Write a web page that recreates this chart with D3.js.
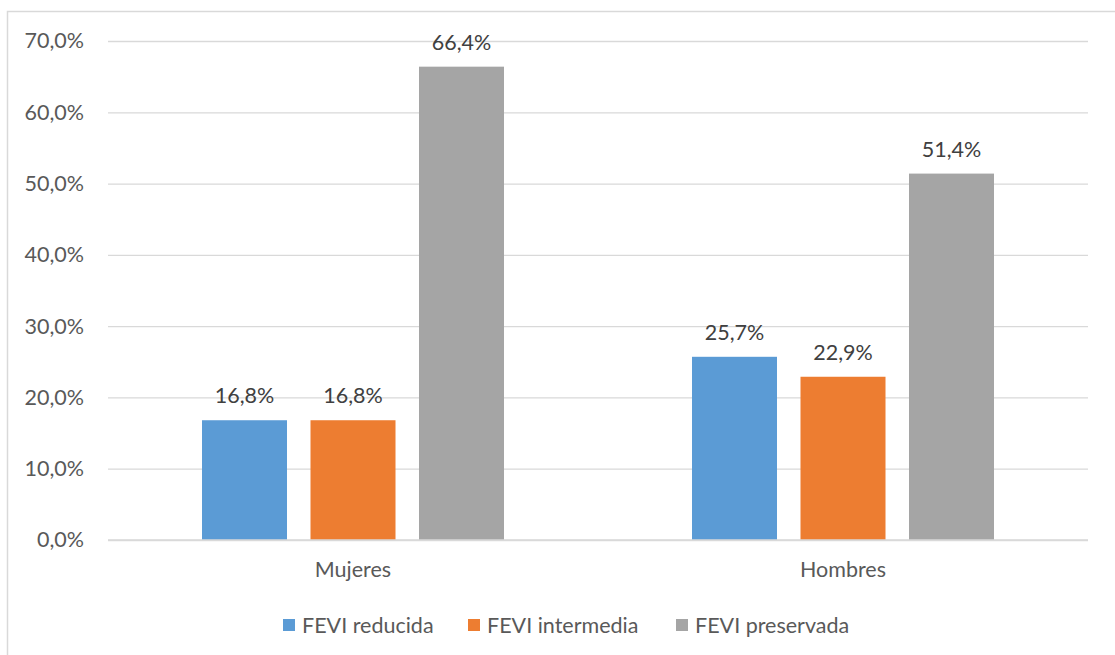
<!DOCTYPE html>
<html>
<head>
<meta charset="utf-8">
<script src="https://cdn.jsdelivr.net/npm/d3@7"></script>
<style>
  html, body { margin: 0; padding: 0; background: #fff; }
  svg { display: block; font-family: Lato, "Open Sans", sans-serif; }
</style>
</head>
<body>
<svg id="chart" width="1115" height="655"></svg>
<script>
// Distribución de FEVI por sexo (porcentajes)
const categories = ["Mujeres", "Hombres"];
const seriesNames = ["FEVI reducida", "FEVI intermedia", "FEVI preservada"];
const reducida = [16.8, 25.7];
const intermedia = [16.8, 22.9];
const preservada = [66.4, 51.4];
const yTicks = [0, 10, 20, 30, 40, 50, 60, 70];
const colors = ["#5b9bd5", "#ed7d31", "#a5a5a5"];

const seriesValues = [reducida, intermedia, preservada];

const svg = d3.select("#chart");
const W = 1115, H = 655;
const margin = { left: 108, right: 27, top: 41, bottom: 115 };
const plotW = W - margin.left - margin.right;
const plotH = H - margin.top - margin.bottom;

const fs = 21.5;
const fmt = v => v.toFixed(1).replace(".", ",") + "%";
const textColor = "#595959";

// chart border
svg.append("rect")
  .attr("x", 7.5).attr("y", 11.5)
  .attr("width", W).attr("height", H)
  .attr("fill", "none").attr("stroke", "#d9d9d9").attr("stroke-width", 1.5);

const g = svg.append("g").attr("transform", `translate(${margin.left},${margin.top})`);

const x0 = d3.scaleBand().domain(categories).range([0, plotW]).paddingInner(0).paddingOuter(0);
const y = d3.scaleLinear().domain([0, 70]).range([plotH, 0]);

// gridlines + y axis labels
const yAxis = d3.axisLeft(y).tickValues(yTicks).tickFormat(fmt).tickSize(-plotW).tickPadding(24);
const ya = g.append("g").call(yAxis);
ya.select(".domain").remove();
ya.selectAll(".tick line").attr("stroke", "#d9d9d9").attr("stroke-width", 1.3);
ya.selectAll(".tick text").attr("fill", textColor).attr("font-size", fs).attr("font-family", "Lato, 'Open Sans', sans-serif");

// bars
const barW = 85, gap = 23.5;
const groupW = 3 * barW + 2 * gap;
const x1 = d3.scaleBand().domain(seriesNames).range([0, groupW]).paddingInner(gap / (barW + gap)).paddingOuter(0);

const groups = g.selectAll(".grp").data(categories).enter().append("g")
  .attr("transform", c => `translate(${x0(c) + x0.bandwidth() / 2 - groupW / 2},0)`);

groups.each(function(c, ci) {
  const grp = d3.select(this);
  seriesNames.forEach((s, si) => {
    const v = seriesValues[si][ci];
    grp.append("rect")
      .attr("x", x1(s)).attr("width", x1.bandwidth())
      .attr("y", y(v)).attr("height", y(0) - y(v))
      .attr("fill", colors[si]);
    grp.append("text")
      .attr("x", x1(s) + x1.bandwidth() / 2)
      .attr("y", y(v) - 17)
      .attr("text-anchor", "middle")
      .attr("fill", "#404040").attr("font-size", fs)
      .text(fmt(v));
  });
});

// baseline
g.append("line").attr("x1", 0).attr("x2", plotW).attr("y1", y(0)).attr("y2", y(0))
  .attr("stroke", "#d9d9d9").attr("stroke-width", 1.3);

// category labels
const xa = g.append("g").attr("transform", `translate(0,${plotH})`)
  .call(d3.axisBottom(x0).tickSize(0).tickPadding(22));
xa.select(".domain").remove();
xa.selectAll(".tick text").attr("fill", textColor).attr("font-size", fs).attr("font-family", "Lato, 'Open Sans', sans-serif");

// legend
const legendX = [283, 468, 676];
const legend = svg.append("g");
seriesNames.forEach((s, i) => {
  legend.append("rect").attr("x", legendX[i]).attr("y", 619).attr("width", 12).attr("height", 12).attr("fill", colors[i]);
  legend.append("text").attr("x", legendX[i] + 19).attr("y", 633)
    .attr("fill", textColor).attr("font-size", fs).text(s);
});
</script>
</body>
</html>
